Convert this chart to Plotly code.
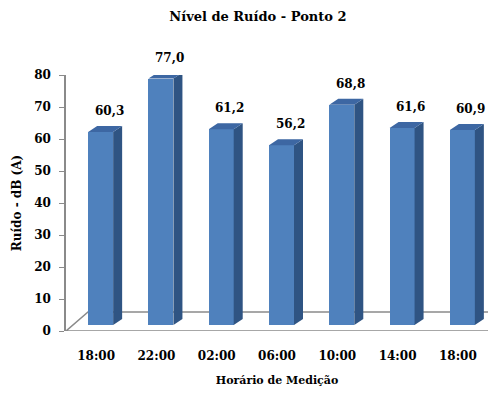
import numpy as np
import plotly.graph_objects as go

# Noise level measured at point 2, by time of day
horarios = ["18:00", "22:00", "02:00", "06:00", "10:00", "14:00", "18:00"]
ruido_db = [60.3, 77.0, 61.2, 56.2, 68.8, 61.6, 60.9]
rotulos = ["60,3", "77,0", "61,2", "56,2", "68,8", "61,6", "60,9"]

FONT = "DejaVu Serif"
FRONT = "#4F81BD"
SIDE = "#2F5483"
TOP = "#3D67A3"
FLOOR = "#8A8A8A"

# pseudo-3D geometry (axis units)
px_x = 422 / 7.0   # pixels per category
px_y = 256 / 80.0  # pixels per dB
bar_w = 25 / px_x
bar_shift = 4.5 / px_x
base = 6 / px_y                      # bars sit back on the floor
dep_x, dep_y = 9 / px_x, 6 / px_y    # bar depth
floor_dx, floor_dy = 22 / px_x, 19 / px_y

idx = np.arange(len(ruido_db))
centers = idx + bar_shift
x0 = centers - bar_w / 2
x1 = centers + bar_w / 2
tops = base + np.array(ruido_db)

fig = go.Figure()

# front faces
fig.add_trace(go.Bar(
    x=centers, y=ruido_db, base=base, width=bar_w,
    marker=dict(color=FRONT, line=dict(width=0)),
    showlegend=False))

# side faces
sx, sy = [], []
for a, b, t in zip(x0, x1, tops):
    sx += [b, b + dep_x, b + dep_x, b, b, None]
    sy += [base, base + dep_y, t + dep_y, t, base, None]
fig.add_trace(go.Scatter(x=sx, y=sy, fill="toself", fillcolor=SIDE,
                         mode="lines", line=dict(width=0, color=SIDE),
                         hoverinfo="skip", showlegend=False))

# top faces
tx, ty = [], []
for a, b, t in zip(x0, x1, tops):
    tx += [a, b, b + dep_x, a + dep_x, a, None]
    ty += [t, t, t + dep_y, t + dep_y, t, None]
fig.add_trace(go.Scatter(x=tx, y=ty, fill="toself", fillcolor=TOP,
                         mode="lines", line=dict(width=0, color=TOP),
                         hoverinfo="skip", showlegend=False))

# floor outline, drawn beneath the bars
fl = -0.5
fr = len(ruido_db) - 0.5
fx = [fr + floor_dx, fl + floor_dx, fl, fr, fr + floor_dx]
fy = [floor_dy, floor_dy, 0, 0, floor_dy]
path = "M " + " L ".join(f"{a},{b}" for a, b in zip(fx, fy))
fig.add_shape(type="path", path=path, xref="x", yref="y", layer="below",
              line=dict(color=FLOOR, width=1.5))

# value labels
for i, (v, lab) in enumerate(zip(ruido_db, rotulos)):
    fig.add_annotation(x=i + 13 / px_x, y=base + v, text=f"<b>{lab}</b>",
                       showarrow=False, yshift=21, yanchor="middle",
                       font=dict(family=FONT, size=12, color="black"))

fig.update_layout(
    width=496, height=394,
    margin=dict(l=66, r=8, t=75, b=63),
    paper_bgcolor="white", plot_bgcolor="white",
    title=dict(text="<b>Nível de Ruído - Ponto 2</b>", x=0.52, xanchor="center",
               y=0.957, yanchor="middle",
               font=dict(family=FONT, size=13, color="black")),
    font=dict(family=FONT, color="black"),
    bargap=0,
)
fig.update_xaxes(
    range=[fl, fr], tickvals=list(idx), ticktext=[f"<b>{h}</b>" for h in horarios],
    showgrid=False, zeroline=False, showline=False, ticks="",
    ticklabelstandoff=16,
    tickfont=dict(family=FONT, size=12, color="black"),
    title=dict(text="<b>Horário de Medição</b>", standoff=14,
               font=dict(family=FONT, size=11, color="black")),
)
fig.update_yaxes(
    range=[0, 80], tickvals=list(range(0, 81, 10)),
    ticktext=[f"<b>{v}</b>" for v in range(0, 81, 10)],
    showgrid=False, zeroline=False,
    showline=True, linecolor=FLOOR, linewidth=1.5,
    ticks="outside", ticklen=5, tickcolor=FLOOR,
    ticklabelstandoff=6,
    tickfont=dict(family=FONT, size=12, color="black"),
    title=dict(text="<b>Ruído - dB (A)</b>", standoff=10,
               font=dict(family=FONT, size=12, color="black")),
)

fig.write_html("out.html")
